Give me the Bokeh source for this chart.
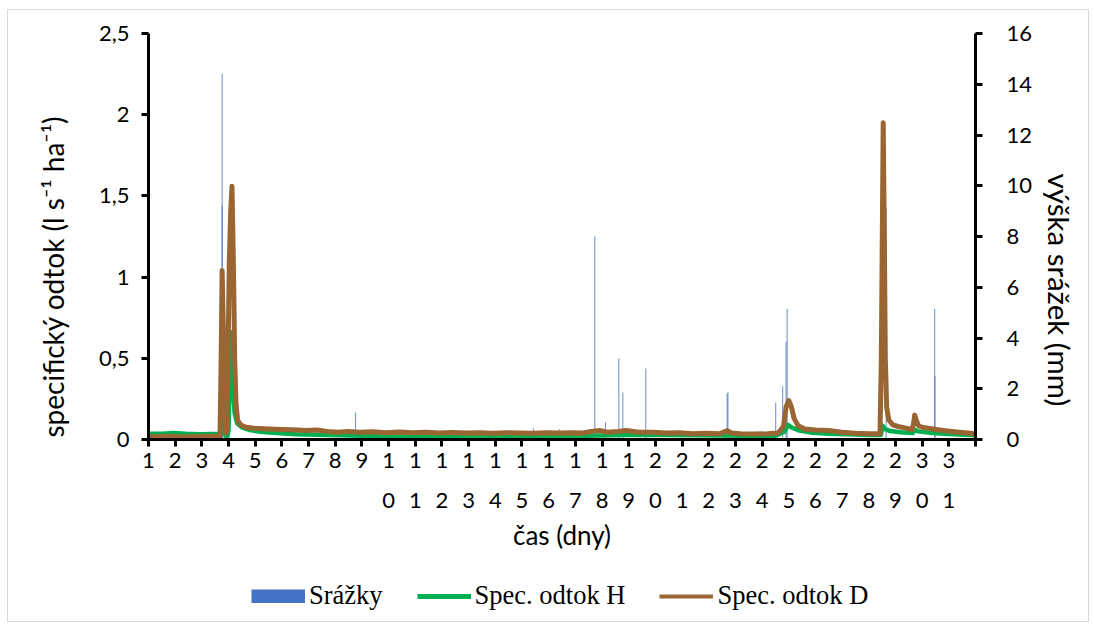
from bokeh.plotting import figure
from bokeh.layouts import column
from bokeh.models import (Range1d, LinearAxis, FixedTicker, Legend, LegendItem,
                          Title, ColumnDataSource)
from bokeh.embed import file_html
from bokeh.resources import INLINE

# day labels on the time axis
days = list(range(1, 32))

# specific runoff, catchment H (l s-1 ha-1), time in days
t_h = [0.00, 0.50, 0.95, 1.40, 1.90, 2.40, 2.68, 2.73, 2.77, 2.82, 2.88, 2.95, 3.00,
       3.04, 3.08, 3.12, 3.17, 3.23, 3.32, 3.50, 3.80, 4.20, 4.80, 5.50, 6.30, 7.20,
       8.10, 9.00, 10.00, 11.00, 12.00, 13.00, 14.00, 15.00, 16.00, 16.90, 17.80,
       18.70, 19.60, 20.50, 21.50, 22.50, 23.50, 23.85, 23.97, 24.10, 24.40, 24.90,
       25.50, 26.20, 27.00, 27.45, 27.52, 27.60, 27.80, 28.20, 28.65, 28.72, 28.85,
       29.30, 29.80, 30.40, 31.00]
q_h = [0.035, 0.036, 0.040, 0.035, 0.033, 0.034, 0.035, 0.080, 0.110, 0.070, 0.025,
       0.015, 0.060, 0.350, 0.660, 0.520, 0.300, 0.160, 0.100, 0.075, 0.058, 0.048,
       0.040, 0.033, 0.030, 0.026, 0.023, 0.022, 0.022, 0.020, 0.022, 0.020, 0.021,
       0.020, 0.022, 0.025, 0.028, 0.030, 0.028, 0.026, 0.025, 0.023, 0.022, 0.050,
       0.090, 0.075, 0.055, 0.042, 0.036, 0.032, 0.028, 0.028, 0.085, 0.065, 0.052,
       0.045, 0.040, 0.060, 0.050, 0.042, 0.036, 0.030, 0.026]

# specific runoff, catchment D (l s-1 ha-1)
t_d = [0.00, 0.40, 0.90, 1.30, 1.80, 2.30, 2.68, 2.72, 2.76, 2.80, 2.83, 2.86, 2.91,
       2.95, 2.98, 3.03, 3.08, 3.13, 3.17, 3.20, 3.23, 3.28, 3.34, 3.45, 3.65, 3.95,
       4.50, 5.00, 5.40, 5.90, 6.30, 6.70, 7.10, 7.50, 7.90, 8.40, 8.90, 9.40, 9.90,
       10.40, 10.90, 11.40, 11.90, 12.40, 12.90, 13.40, 13.90, 14.40, 14.90, 15.40,
       15.90, 16.30, 16.60, 16.90, 17.20, 17.60, 17.90, 18.40, 18.90, 19.40, 19.90,
       20.40, 20.90, 21.40, 21.70, 21.85, 22.20, 22.70, 23.20, 23.60, 23.80, 23.90,
       24.00, 24.10, 24.20, 24.35, 24.60, 25.00, 25.50, 26.00, 26.50, 27.00, 27.42,
       27.47, 27.54, 27.58, 27.62, 27.67, 27.75, 27.90, 28.10, 28.40, 28.62, 28.68,
       28.72, 28.78, 28.86, 29.00, 29.40, 29.80, 30.20, 30.60, 31.00]
q_d = [0.015, 0.018, 0.020, 0.016, 0.018, 0.020, 0.022, 0.450, 1.040, 0.720, 0.580,
       0.200, 0.040, 0.060, 0.490, 1.100, 1.400, 1.560, 1.200, 0.880, 0.500, 0.220,
       0.120, 0.090, 0.075, 0.070, 0.065, 0.062, 0.060, 0.055, 0.058, 0.050, 0.045,
       0.050, 0.045, 0.048, 0.042, 0.046, 0.042, 0.044, 0.040, 0.043, 0.040, 0.042,
       0.038, 0.042, 0.040, 0.038, 0.042, 0.040, 0.042, 0.040, 0.050, 0.055, 0.045,
       0.050, 0.055, 0.045, 0.045, 0.040, 0.042, 0.036, 0.038, 0.035, 0.055, 0.040,
       0.036, 0.034, 0.035, 0.040, 0.080, 0.200, 0.240, 0.200, 0.130, 0.085, 0.065,
       0.058, 0.055, 0.045, 0.038, 0.035, 0.035, 0.500, 1.950, 1.300, 0.500, 0.200,
       0.120, 0.090, 0.080, 0.070, 0.060, 0.100, 0.150, 0.120, 0.085, 0.075, 0.065,
       0.055, 0.048, 0.042, 0.035]

# precipitation totals (mm) per recording interval
t_rain = [2.755, 2.760, 2.765, 7.76, 14.43, 15.40, 16.73, 17.13, 17.63, 17.78, 18.64,
          21.69, 21.72, 23.51, 23.77, 23.90, 23.94, 27.65, 29.47, 29.48]
rain_mm = [6.7, 14.4, 9.2, 1.06, 0.43, 0.40, 8.0, 0.68, 3.2, 1.85, 2.8,
           1.8, 1.86, 1.45, 2.1, 3.85, 5.15, 9.1, 5.15, 2.5]

left_ticks = [0, 0.5, 1, 1.5, 2, 2.5]
left_tick_labels = ["0", "0,5", "1", "1,5", "2", "2,5"]
right_ticks = [0, 2, 4, 6, 8, 10, 12, 14, 16]

BLUE = "#4472C4"
GREEN = "#00B050"
BROWN = "#996633"
SANS = "Lato"
W = 1080

p = figure(width=W, height=560, output_backend="svg", toolbar_location=None,
           x_range=Range1d(0, 31), y_range=Range1d(0, 2.5),
           min_border_left=140, min_border_right=113, min_border_top=23,
           min_border_bottom=131)
p.outline_line_color = None
p.xgrid.visible = False
p.ygrid.visible = False
p.background_fill_color = "white"
p.border_fill_color = "white"

p.extra_y_ranges = {"rain": Range1d(0, 16)}

# precipitation bars on the secondary axis
rain_src = ColumnDataSource(dict(t=t_rain, mm=rain_mm))
p.vbar(x="t", top="mm", bottom=0, width=0.04, source=rain_src, y_range_name="rain",
       fill_color=BLUE, fill_alpha=0.75, line_color=None)

h_src = ColumnDataSource(dict(t=t_h, q=q_h))
d_src = ColumnDataSource(dict(t=t_d, q=q_d))
p.line("t", "q", source=h_src, line_color=GREEN, line_width=4.5, line_join="round")
p.line("t", "q", source=d_src, line_color=BROWN, line_width=5, line_join="round")


def style_axis(ax):
    ax.axis_line_color = "black"
    ax.axis_line_width = 3
    ax.major_tick_line_color = "black"
    ax.major_tick_line_width = 3
    ax.major_tick_out = 7
    ax.major_tick_in = 0
    ax.minor_tick_line_color = None
    ax.major_label_text_font = SANS
    ax.major_label_text_font_size = "22px"
    ax.major_label_text_color = "black"


# --- left axis
ya = p.yaxis[0]
ya.ticker = FixedTicker(ticks=left_ticks)
ya.major_label_overrides = dict(zip(left_ticks, left_tick_labels))
style_axis(ya)
ya.major_label_standoff = 12

# --- right axis (precipitation)
ra = LinearAxis(y_range_name="rain", ticker=FixedTicker(ticks=right_ticks))
style_axis(ra)
ra.major_label_standoff = 24
p.add_layout(ra, "right")

# --- time axis: two rows of digits
xa = p.xaxis[0]
tick_pos = [d - 1 for d in days] + [len(days)]
xa.ticker = FixedTicker(ticks=tick_pos)
first_row = {d - 1: str(d)[0] for d in days}
first_row[len(days)] = ""
xa.major_label_overrides = first_row
style_axis(xa)
xa.major_label_standoff = 6

xa2 = LinearAxis(ticker=FixedTicker(ticks=[d - 1 for d in days]))
xa2.major_label_overrides = {d - 1: (str(d)[1] if d >= 10 else "") for d in days}
style_axis(xa2)
xa2.axis_line_color = None
xa2.major_tick_line_color = None
xa2.major_tick_out = 0
xa2.major_label_standoff = 22
xa2.axis_label = "čas (dny)"
xa2.axis_label_text_font = SANS
xa2.axis_label_text_font_size = "26px"
xa2.axis_label_text_font_style = "normal"
xa2.axis_label_text_color = "black"
xa2.axis_label_standoff = 8
p.add_layout(xa2, "below")

# --- axis titles
p.add_layout(Title(text="specifický odtok (l s⁻¹ ha⁻¹)", align="left", offset=2,
                   standoff=51, text_font=SANS, text_font_size="28px",
                   text_font_style="normal", text_color="black"), "left")
p.add_layout(Title(text="výška srážek (mm)", align="left", offset=140,
                   standoff=12, text_font=SANS, text_font_size="29.5px",
                   text_font_style="normal", text_color="black"), "right")

# --- legend strip underneath
pl = figure(width=W, height=51, output_backend="svg", toolbar_location=None,
            x_range=Range1d(0, 1), y_range=Range1d(0, 1),
            x_axis_type=None, y_axis_type=None, min_border=0)
pl.outline_line_color = None
pl.xgrid.visible = False
pl.ygrid.visible = False
k_rain = pl.line("t", "mm", source=rain_src, line_color=BLUE, line_width=14,
                 line_cap="butt", visible=False)
k_h = pl.line("t", "q", source=h_src, line_color=GREEN, line_width=5, visible=False)
k_d = pl.line("t", "q", source=d_src, line_color=BROWN, line_width=4, visible=False)

legend = Legend(items=[LegendItem(label="Srážky", renderers=[k_rain]),
                       LegendItem(label="Spec. odtok H", renderers=[k_h]),
                       LegendItem(label="Spec. odtok D", renderers=[k_d])],
                orientation="horizontal", location=(103, 10),
                glyph_width=54, glyph_height=14, label_standoff=4, spacing=34,
                padding=0, margin=0, border_line_color=None,
                background_fill_alpha=0,
                label_text_font="Liberation Serif", label_text_font_size="26.5px",
                label_text_color="black")
pl.add_layout(legend, "center")

page = column(p, pl, spacing=0)
page.margin = (10, 6, 7, 8)
page.styles = {"outline": "1px solid #D9D9D9"}

open("out.html", "w").write(file_html(page, INLINE))
